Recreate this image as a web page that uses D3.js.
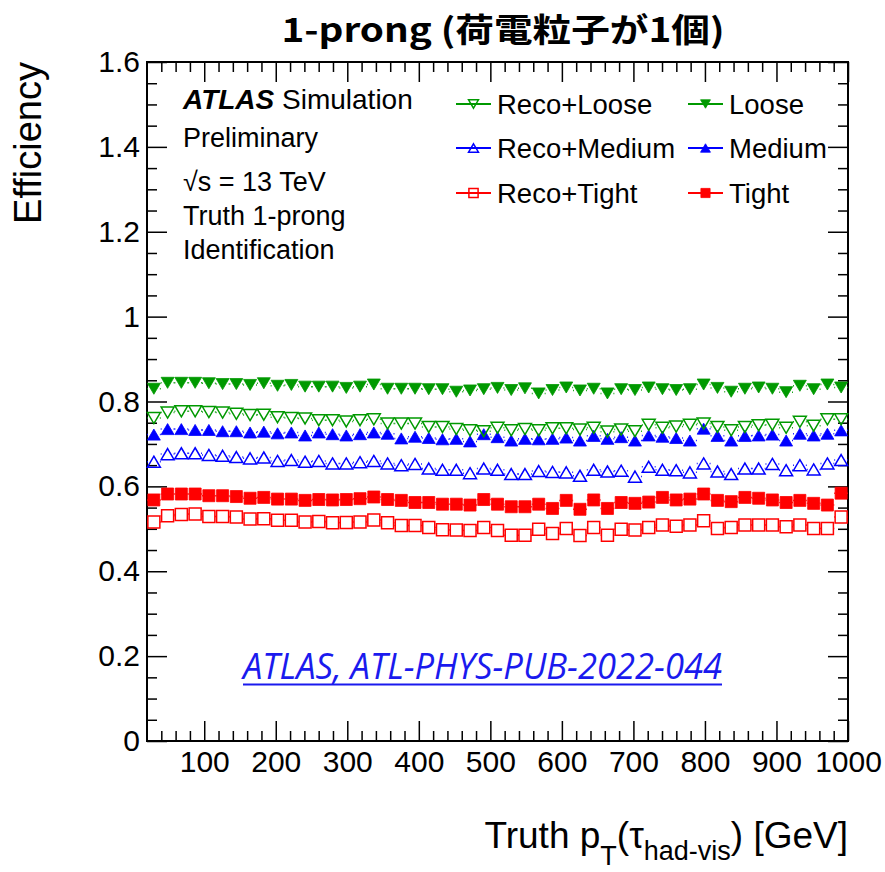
<!DOCTYPE html>
<html>
<head>
<meta charset="utf-8">
<script src="https://cdn.jsdelivr.net/npm/d3@7"></script>
<style>
  body { margin: 0; background: #fff; }
</style>
</head>
<body>
<div id="my_dataviz"></div>
<script>
// bin centres in GeV (51 bins between 20 and 1000)
var ptCenters = [29.6, 48.8, 68.0, 87.3, 106.5, 125.7, 144.9, 164.1, 183.3, 202.5,
  221.8, 241.0, 260.2, 279.4, 298.6, 317.8, 337.1, 356.3, 375.5, 394.7,
  413.9, 433.1, 452.4, 471.6, 490.8, 510.0, 529.2, 548.4, 567.6, 586.9,
  606.1, 625.3, 644.5, 663.7, 682.9, 702.2, 721.4, 740.6, 759.8, 779.0,
  798.2, 817.5, 836.7, 855.9, 875.1, 894.3, 913.5, 932.7, 952.0, 971.2, 990.4];
var binHalfWidth = 9.6;

// efficiencies
var recoLoose = [.761,.774,.777,.777,.775,.774,.771,.768,.769,.763,.761,.760,.756,
  .756,.753,.756,.758,.748,.748,.748,.740,.740,.735,.732,.730,.738,
  .732,.735,.732,.737,.737,.734,.738,.729,.734,.730,.745,.738,
  .741,.745,.748,.740,.732,.740,.744,.745,.738,.752,.743,.758,.758];
var loose = [.830,.844,.844,.844,.843,.841,.841,.839,.843,.837,.839,.835,.835,
  .835,.832,.835,.840,.830,.830,.830,.829,.829,.823,.826,.829,.832,
  .827,.831,.819,.827,.833,.826,.830,.819,.829,.827,.833,.829,
  .827,.829,.840,.832,.823,.830,.833,.830,.822,.837,.829,.840,.833];
var recoMedium = [.658,.676,.678,.678,.674,.672,.669,.666,.668,.660,.662,.658,.660,
  .654,.654,.657,.660,.654,.650,.653,.642,.639,.639,.631,.642,.639,
  .629,.629,.636,.634,.633,.625,.639,.635,.637,.623,.646,.639,
  .638,.633,.654,.635,.629,.642,.642,.653,.638,.650,.640,.654,.662];
var medium = [.722,.735,.735,.733,.733,.730,.730,.727,.729,.725,.727,.720,.727,
  .723,.720,.723,.727,.724,.713,.717,.714,.711,.712,.706,.723,.716,
  .708,.712,.711,.712,.715,.708,.719,.712,.716,.708,.720,.717,
  .714,.708,.736,.719,.708,.719,.720,.722,.708,.724,.720,.724,.732];
var recoTight = [.516,.531,.534,.535,.529,.529,.528,.523,.524,.520,.520,.516,.517,
  .514,.515,.516,.521,.514,.508,.508,.503,.498,.497,.496,.503,.496,
  .485,.485,.499,.489,.501,.484,.503,.485,.499,.497,.503,.509,
  .506,.509,.519,.501,.503,.509,.509,.509,.505,.509,.501,.501,.528];
var tight = [.568,.582,.582,.582,.578,.578,.576,.572,.574,.570,.570,.567,.569,
  .568,.569,.571,.575,.569,.567,.562,.562,.558,.558,.556,.569,.558,
  .552,.552,.558,.548,.567,.546,.568,.548,.562,.560,.563,.574,
  .568,.570,.582,.567,.564,.574,.572,.568,.562,.567,.560,.556,.584];

var xTickValues = [100, 200, 300, 400, 500, 600, 700, 800, 900, 1000];
var yTickValues = [0, 0.2, 0.4, 0.6, 0.8, 1, 1.2, 1.4, 1.6];

var green = "#009900", blue = "#0000ff", red = "#ff0000";
var series = [
  {name: "Loose",       values: loose,      color: green, shape: "down",   filled: true},
  {name: "Medium",      values: medium,     color: blue,  shape: "up",     filled: true},
  {name: "Tight",       values: tight,      color: red,   shape: "square", filled: true},
  {name: "Reco+Loose",  values: recoLoose,  color: green, shape: "down",   filled: false},
  {name: "Reco+Medium", values: recoMedium, color: blue,  shape: "up",     filled: false},
  {name: "Reco+Tight",  values: recoTight,  color: red,   shape: "square", filled: false}
];

var font = "'Liberation Sans', Arial, Helvetica, sans-serif";

// set the dimensions and margins of the graph
var margin = {top: 62, right: 37, bottom: 131, left: 147},
    width = 885 - margin.left - margin.right,
    height = 872 - margin.top - margin.bottom;

var svg = d3.select("#my_dataviz")
  .append("svg")
    .attr("width", 885)
    .attr("height", 872)
    .style("font-family", font);

svg.append("rect").attr("width", 885).attr("height", 872).attr("fill", "#fff");

var g = svg.append("g")
    .attr("transform", "translate(" + margin.left + "," + margin.top + ")");

var x = d3.scaleLinear().domain([20, 1000]).range([0, width]);
var y = d3.scaleLinear().domain([0, 1.6]).range([height, 0]);

var xMinor = d3.range(40, 1000, 20).filter(function(d) { return d % 100 != 0; });
var yMinor = d3.range(0, 1.6001, 0.05).filter(function(d) { return Math.abs(d * 5 - Math.round(d * 5)) > 1e-6; });

function addAxis(axis, tr) {
  var a = g.append("g").attr("transform", tr).call(axis)
    .attr("font-family", font).attr("font-size", 30);
  a.select(".domain").remove();
  a.selectAll("line").attr("stroke", "#000").attr("stroke-width", 1.5);
  a.selectAll("text").attr("fill", "#000");
  return a;
}

// ticks on all four sides, pointing inwards
addAxis(d3.axisBottom(x).tickValues(xTickValues).tickSize(-20).tickPadding(10).tickFormat(d3.format("d")),
  "translate(0," + height + ")");
addAxis(d3.axisBottom(x).tickValues(xMinor).tickSize(-10).tickFormat(""), "translate(0," + height + ")");
addAxis(d3.axisTop(x).tickValues(xTickValues).tickSize(-20).tickFormat(""), "translate(0,0)");
addAxis(d3.axisTop(x).tickValues(xMinor).tickSize(-10).tickFormat(""), "translate(0,0)");
addAxis(d3.axisLeft(y).tickValues(yTickValues).tickSize(-20).tickPadding(7)
  .tickFormat(function(d) { return String(+d.toFixed(1)); }), "translate(0,0)");
addAxis(d3.axisLeft(y).tickValues(yMinor).tickSize(-10).tickFormat(""), "translate(0,0)");
addAxis(d3.axisRight(y).tickValues(yTickValues).tickSize(-20).tickFormat(""), "translate(" + width + ",0)");
addAxis(d3.axisRight(y).tickValues(yMinor).tickSize(-10).tickFormat(""), "translate(" + width + ",0)");

g.append("rect")
  .attr("width", width).attr("height", height)
  .attr("fill", "none").attr("stroke", "#000").attr("stroke-width", 2);

// marker shapes, centred on the bounding box like ROOT does
function markerPath(shape, s) {
  if (shape == "up") return "M0," + (-s * 0.92) + "L" + (s * 1.08) + "," + (s * 0.92) + "L" + (-s * 1.08) + "," + (s * 0.92) + "Z";
  if (shape == "down") return "M0," + (s * 0.92) + "L" + (s * 1.08) + "," + (-s * 0.92) + "L" + (-s * 1.08) + "," + (-s * 0.92) + "Z";
  return "M" + (-s) + "," + (-s) + "H" + s + "V" + s + "H" + (-s) + "Z";
}

function drawMarker(sel, d, s) {
  sel.append("path")
    .attr("d", markerPath(d.shape, s))
    .attr("fill", d.filled ? d.color : "none")
    .attr("stroke", d.color)
    .attr("stroke-width", d.filled ? 0.8 : 1.5)
    .attr("stroke-linejoin", "miter");
}

var markerSize = 6;

series.forEach(function(s) {
  var pts = ptCenters.map(function(c, i) { return {c: c, v: s.values[i]}; });
  var sg = g.append("g");
  // horizontal bin-width error bars, dotted, left outside the marker
  sg.selectAll(".errL").data(pts).enter().append("line")
    .attr("x1", function(d) { return x(d.c - binHalfWidth); })
    .attr("x2", function(d) { return x(d.c) - markerSize; })
    .attr("y1", function(d) { return y(d.v); })
    .attr("y2", function(d) { return y(d.v); })
    .attr("stroke", s.color).attr("stroke-width", 1.5).attr("stroke-dasharray", "1.5,1.5");
  sg.selectAll(".errR").data(pts).enter().append("line")
    .attr("x1", function(d) { return x(d.c) + markerSize; })
    .attr("x2", function(d) { return x(d.c + binHalfWidth); })
    .attr("y1", function(d) { return y(d.v); })
    .attr("y2", function(d) { return y(d.v); })
    .attr("stroke", s.color).attr("stroke-width", 1.5).attr("stroke-dasharray", "1.5,1.5");
  sg.selectAll(".mk").data(pts).enter().append("g")
    .attr("transform", function(d) { return "translate(" + x(d.c) + "," + y(d.v) + ")"; })
    .each(function() { drawMarker(d3.select(this), s, markerSize); });
});

// title
svg.append("text")
  .attr("x", 503).attr("y", 42)
  .attr("text-anchor", "middle")
  .attr("font-family", "'Noto Sans CJK JP', 'Noto Sans', sans-serif")
  .attr("font-weight", 700)
  .attr("font-size", 33)
  .attr("textLength", 443).attr("lengthAdjust", "spacingAndGlyphs")
  .text("1-prong (荷電粒子が1個)");

// axis titles
svg.append("text")
  .attr("transform", "translate(41,62) rotate(-90)")
  .attr("text-anchor", "end")
  .attr("font-size", 38)
  .text("Efficiency");

var xt = svg.append("text")
  .attr("x", 848).attr("y", 848)
  .attr("text-anchor", "end")
  .attr("font-size", 37);
xt.append("tspan").text("Truth p");
xt.append("tspan").attr("dy", 17).attr("font-size", 27).text("T");
xt.append("tspan").attr("dy", -17).text("(\u03c4");
xt.append("tspan").attr("dy", 12).attr("font-size", 27).text("had-vis");
xt.append("tspan").attr("dy", -12).text(") [GeV]");

// ATLAS label block
var infoLines = ["Preliminary", "\u221as = 13 TeV", "Truth 1-prong", "Identification"];
var infoY = [147, 191, 225, 259];
var atl = svg.append("text").attr("x", 183).attr("y", 109).attr("font-size", 28);
atl.append("tspan").attr("font-weight", "bold").attr("font-style", "italic").text("ATLAS");
atl.append("tspan").text(" Simulation");
svg.selectAll(".info").data(infoLines).enter().append("text")
  .attr("x", 183)
  .attr("y", function(d, i) { return infoY[i]; })
  .attr("font-size", 27)
  .text(function(d) { return d; });

// legend
var legendOrder = ["Reco+Loose", "Loose", "Reco+Medium", "Medium", "Reco+Tight", "Tight"];
var legendCols = [456, 688], legendRows = [104, 148, 193];
legendOrder.forEach(function(name, i) {
  var s = series.filter(function(d) { return d.name == name; })[0];
  var lx = legendCols[i % 2], ly = legendRows[Math.floor(i / 2)];
  var lg = svg.append("g").attr("transform", "translate(" + lx + "," + ly + ")");
  lg.append("line").attr("x1", 0).attr("x2", 35).attr("y1", 0).attr("y2", 0)
    .attr("stroke", s.color).attr("stroke-width", 2);
  var mg = lg.append("g").attr("transform", "translate(17.5,0)");
  drawMarker(mg, s, 4.6);
  lg.append("text").attr("x", 41).attr("y", 0).attr("dy", "0.35em")
    .attr("font-size", 27.5).text(name);
});

// reference link
svg.append("text")
  .attr("x", 243).attr("y", 679)
  .attr("font-family", "'Open Sans', 'Noto Sans', sans-serif")
  .attr("font-style", "italic")
  .attr("font-size", 36)
  .attr("fill", "#1a1aee")
  .attr("textLength", 479).attr("lengthAdjust", "spacingAndGlyphs")
  .text("ATLAS, ATL-PHYS-PUB-2022-044");
svg.append("line")
  .attr("x1", 243).attr("x2", 722).attr("y1", 684.5).attr("y2", 684.5)
  .attr("stroke", "#1a1aee").attr("stroke-width", 2);
</script>
</body>
</html>
